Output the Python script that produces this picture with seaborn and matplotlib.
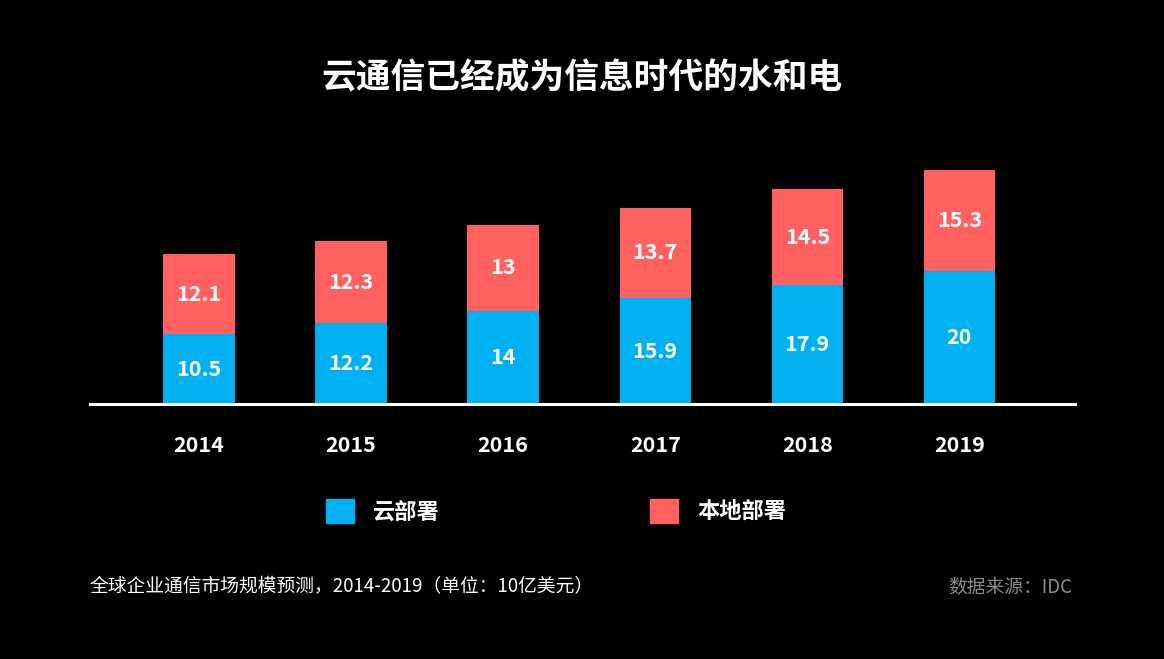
import pandas as pd
import matplotlib.pyplot as plt
import matplotlib.patches as mpatches
import seaborn as sns

# 数据
years = ['2014', '2015', '2016', '2017', '2018', '2019']
cloud = [10.5, 12.2, 14, 15.9, 17.9, 20]
local = [12.1, 12.3, 13, 13.7, 14.5, 15.3]

BLUE = '#00B0F0'
RED = '#FF6161'

sns.set_theme(style='white')
plt.rcParams['font.family'] = ['Noto Sans CJK SC', 'DejaVu Sans']

df = pd.DataFrame({'year': years, 'cloud': cloud, 'local': local})
df['total'] = df['cloud'] + df['local']

fig = plt.figure(figsize=(11.64, 6.59), dpi=100, facecolor='black')
ax = fig.add_axes([90 / 1164, 1 - 404 / 659, (1075 - 90) / 1164, 304 / 659])
ax.set_facecolor('black')

# 堆叠柱：先画总量（红），再画云部署（蓝）
sns.barplot(data=df, x='year', y='total', color=RED, saturation=1,
            width=0.47, linewidth=0, ax=ax)
sns.barplot(data=df, x='year', y='cloud', color=BLUE, saturation=1,
            width=0.47, linewidth=0, ax=ax)

for i, row in df.iterrows():
    ax.text(i, row['cloud'] / 2, f"{row['cloud']:g}", ha='center', va='center',
            color='white', fontsize=15.5, fontweight='bold')
    ax.text(i, row['cloud'] + row['local'] / 2, f"{row['local']:g}",
            ha='center', va='center', color='white', fontsize=15.5,
            fontweight='bold')

ax.set_xlim(-0.717, 5.76)
ax.set_ylim(0, 45.8)
ax.set_xlabel('')
ax.set_ylabel('')
ax.set_yticks([])
for s in ['top', 'right', 'left']:
    ax.spines[s].set_visible(False)
ax.spines['bottom'].set_color('white')
ax.spines['bottom'].set_linewidth(2.2)
ax.tick_params(axis='x', length=0, pad=22, colors='white', labelsize=15.5)
for lab in ax.get_xticklabels():
    lab.set_fontweight('bold')

fig.text(0.5, 1 - 78 / 659, '云通信已经成为信息时代的水和电', ha='center', va='center',
         color='white', fontsize=25, fontweight='bold')

handles = [mpatches.Patch(color=BLUE, label='云部署'),
           mpatches.Patch(color=RED, label='本地部署')]
leg = fig.legend(handles=handles, loc='center left',
                 bbox_to_anchor=(326 / 1164, 1 - 511 / 659), ncol=2,
                 frameon=False, borderpad=0, borderaxespad=0,
                 handlelength=1.27, handleheight=1.27, handletextpad=0.85,
                 columnspacing=9.45, prop={'size': 16, 'weight': 'bold'})
for t in leg.get_texts():
    t.set_color('white')

fig.text(90 / 1164, 1 - 587 / 659, '全球企业通信市场规模预测，2014-2019（单位：10亿美元）',
         ha='left', va='center', color='white', fontsize=13.5)
fig.text(1072 / 1164, 1 - 587 / 659, '数据来源：IDC', ha='right', va='center',
         color='#8C8C8C', fontsize=13.5)

fig.savefig('out.png', dpi=100, facecolor='black')
